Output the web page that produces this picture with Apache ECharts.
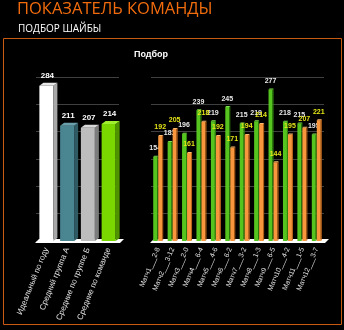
<!DOCTYPE html>
<html>
<head>
<meta charset="utf-8">
<script src="https://cdn.jsdelivr.net/npm/echarts@6/dist/echarts.min.js"></script>
<style>
html,body{margin:0;padding:0;background:#000;}
#c{width:344px;height:330px;}
</style>
</head>
<body>
<div id="c"></div>
<script>
// ---- data ----
const leftCategories = ['Идеальный по году', 'Средний группа А', 'Средние по группе Б', 'Средние по команде'];
const leftValues = [284, 211, 207, 214];
const matchLabels = ['Матч1___2-8', 'Матч2___3-12', 'Матч3___2-0', 'Матч4___6-4', 'Матч5___4-6', 'Матч6___6-2',
                     'Матч7___3-2', 'Матч8___1-3', 'Матч9___6-5', 'Матч10___4-2', 'Матч11___1-5', 'Матч12___3-7'];
const greenValues = [154, 181, 196, 239, 219, 245, 215, 219, 277, 218, 215, 195];
const orangeValues = [192, 205, 161, 218, 192, 171, 194, 214, 144, 195, 207, 221];
const yMin = 0, yMax = 300, yInterval = 50;

// ---- styles ----
const LEFT_STYLE = [
  {front: '#ffffff', side: '#a8a8a8', top: '#e8e8e8'},
  {front: '#4a8592', side: '#2f5a64', top: '#6aa0ac'},
  {front: '#bdbdbd', side: '#7c7c7c', top: '#d8d8d8'},
  {front: '#7ad800', side: '#4f9400', top: '#a0ee30'}
];
const GREEN = {front: '#56c41e', side: '#2f8a0c', top: '#80e050'};
const ORANGE = {front: '#f7963c', side: '#c0661a', top: '#ffbb70'};
const FONT = 'Liberation Sans, Arial, sans-serif';

function floorShape(cs, y0) {
  return {type: 'polygon', z2: 0, shape: {points: [
    [cs.x - 1, y0 + 2], [cs.x + cs.width + 1, y0 + 2],
    [cs.x + cs.width + 5, y0 - 2], [cs.x + 3, y0 - 2]
  ]}, style: {fill: '#ffffff'}};
}

function box(x, w, yTop, yBot, dx, dy, col) {
  return [
    {type: 'rect', shape: {x: x, y: yTop, width: w, height: yBot - yTop}, style: {fill: col.front}},
    {type: 'polygon', shape: {points: [[x + w, yTop], [x + w + dx, yTop - dy], [x + w + dx, yBot - dy], [x + w, yBot]]}, style: {fill: col.side}},
    {type: 'polygon', shape: {points: [[x, yTop], [x + dx, yTop - dy], [x + w + dx, yTop - dy], [x + w, yTop]]}, style: {fill: col.top}}
  ];
}

function renderLeft(params, api) {
  const i = api.value(0), v = api.value(1);
  const p0 = api.coord([i, 0]), p1 = api.coord([i, v]);
  const c = p0[0];
  const children = [];
  if (params.dataIndex === 0) children.push(floorShape(params.coordSys, p0[1]));
  box(c - 7, 14, p1[1], p0[1], 4, 3, LEFT_STYLE[i]).forEach(e => children.push(e));
  children.push({type: 'text', style: {text: String(v), x: c + 1, y: p1[1] - 6, align: 'center', verticalAlign: 'bottom',
    fill: '#ffffff', font: 'bold 8px ' + FONT}});
  return {type: 'group', children: children};
}

function makeRight(values, offset, col, labelColor, isFirst) {
  return function (params, api) {
    const i = api.value(0), v = api.value(1);
    const p0 = api.coord([i, 0]), p1 = api.coord([i, v]);
    const c = p0[0] + offset;
    const children = [];
    if (isFirst && params.dataIndex === 0) children.push(floorShape(params.coordSys, p0[1]));
    box(c, 4, p1[1], p0[1], 1, 1, col).forEach(e => children.push(e));
    children.push({type: 'text', style: {text: String(v), x: c + 2, y: p1[1] - 5, align: 'center', verticalAlign: 'bottom',
      fill: labelColor, font: 'bold 7px ' + FONT}});
    return {type: 'group', children: children};
  };
}

const yAxisBase = {
  type: 'value', min: yMin, max: yMax, interval: yInterval,
  axisLabel: {show: false}, axisLine: {show: false}, axisTick: {show: false},
  splitLine: {lineStyle: {color: '#404040', width: 1}}
};

const chart = echarts.init(document.getElementById('c'), null, {renderer: 'canvas'});
chart.setOption({
  backgroundColor: '#000000',
  animation: false,
  graphic: [
    {type: 'text', left: 17, top: 1, style: {text: 'ПОКАЗАТЕЛЬ КОМАНДЫ', fill: '#f26c0d', font: '16.5px "Open Sans", sans-serif'}},
    {type: 'text', left: 18, top: 24, style: {text: 'ПОДБОР ШАЙБЫ', fill: '#ffffff', font: '10px "Open Sans", sans-serif'}},
    {type: 'rect', shape: {x: 3.5, y: 38.5, width: 338, height: 286}, style: {fill: 'none', stroke: '#c85a12', lineWidth: 1}},
    {type: 'text', x: 151, y: 55, style: {text: 'Подбор', fill: '#ffffff', align: 'center', verticalAlign: 'middle', font: 'bold 9px ' + FONT}}
  ],
  grid: [
    {left: 36, top: 77, width: 83, height: 164},
    {left: 151, top: 77, width: 173, height: 164}
  ],
  xAxis: [
    {type: 'category', gridIndex: 0, data: leftCategories, axisLine: {show: false}, axisTick: {show: false},
      axisLabel: {rotate: 68, margin: 7, color: '#e0e0e0', fontSize: 8, fontFamily: FONT, interval: 0}},
    {type: 'category', gridIndex: 1, data: matchLabels, axisLine: {show: false}, axisTick: {show: false},
      axisLabel: {rotate: 67, margin: 7, color: '#e0e0e0', fontSize: 7, fontFamily: FONT, interval: 0}}
  ],
  yAxis: [
    Object.assign({gridIndex: 0}, yAxisBase),
    Object.assign({gridIndex: 1}, yAxisBase)
  ],
  series: [
    {type: 'custom', xAxisIndex: 0, yAxisIndex: 0, renderItem: renderLeft,
      data: leftValues.map((v, i) => [i, v])},
    {type: 'custom', xAxisIndex: 1, yAxisIndex: 1, renderItem: makeRight(greenValues, -5, GREEN, '#e8e8e8', true),
      data: greenValues.map((v, i) => [i, v])},
    {type: 'custom', xAxisIndex: 1, yAxisIndex: 1, renderItem: makeRight(orangeValues, 0, ORANGE, '#e4e418', false),
      data: orangeValues.map((v, i) => [i, v])}
  ]
});
</script>
</body>
</html>
